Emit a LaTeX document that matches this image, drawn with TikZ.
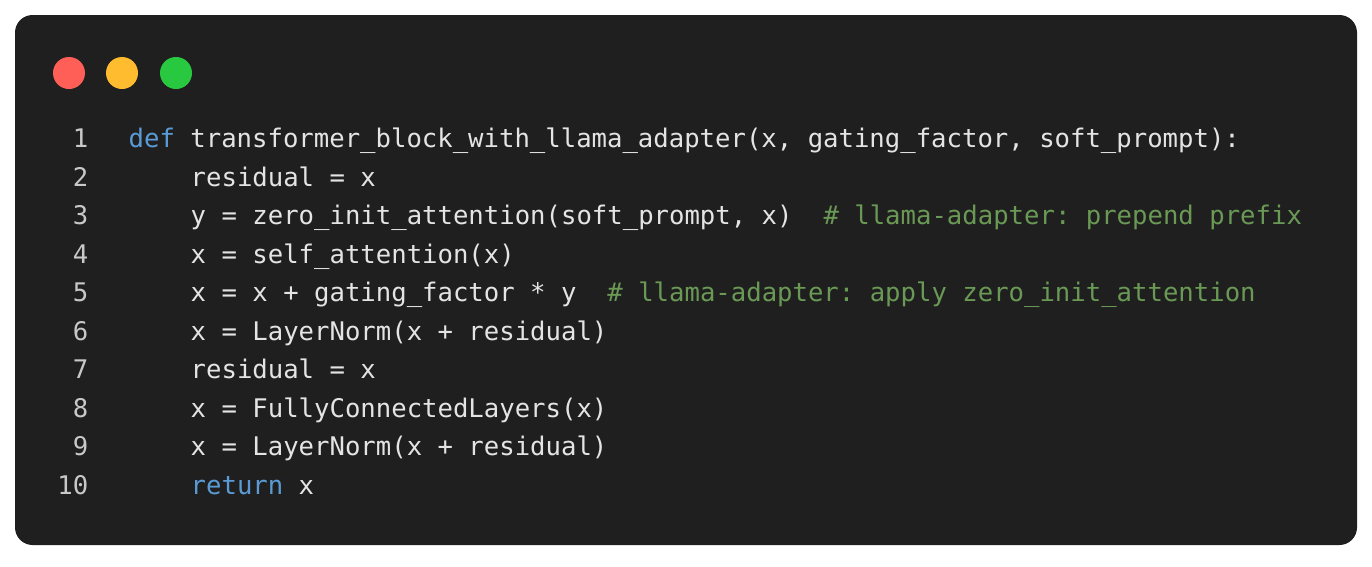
\documentclass[tikz,border=0pt]{standalone}
\usepackage{fontspec}
\setmonofont{DejaVu Sans Mono}
\definecolor{bg}{HTML}{1F1F1F}
\definecolor{fg}{HTML}{E4E4E4}
\definecolor{kw}{HTML}{5A9BD5}
\definecolor{cm}{HTML}{6A9955}
\definecolor{ln}{HTML}{C8C8C8}
\definecolor{dotr}{HTML}{FF5F57}
\definecolor{doty}{HTML}{FEBC2E}
\definecolor{dotg}{HTML}{28C840}
\begin{document}
\begin{tikzpicture}[x=0.01cm,y=-0.01cm,
  code/.style={anchor=mid west,inner sep=0pt,text=fg,font=\ttfamily\fontsize{7.29}{9}\selectfont},
  num/.style={anchor=mid east,inner sep=0pt,text=ln,font=\ttfamily\fontsize{7.29}{9}\selectfont}]
\useasboundingbox (0,0) rectangle (1372,566);
\fill[white] (0,0) rectangle (1372,566);
\fill[bg,rounded corners=5pt] (15,15) rectangle (1357,545);
\fill[dotr] (69,73) circle (16);
\fill[doty] (122,73) circle (16);
\fill[dotg] (176,73) circle (16);
\foreach \i in {1,...,10}{\node[num] (n\i) at (89,{140+(\i-1)*38.5}) {\i};}
\node[code] (l1) at (128,140) {\textcolor{kw}{def} transformer\_block\_with\_llama\_adapter(x, gating\_factor, soft\_prompt):};
\node[code] (l2) at (190,178.5) {residual = x};
\node[code] (l3) at (190,217) {y = zero\_init\_attention(soft\_prompt, x)\ \ \textcolor{cm}{\# llama-adapter: prepend prefix}};
\node[code] (l4) at (190,255.5) {x = self\_attention(x)};
\node[code] (l5) at (190,294) {x = x + gating\_factor * y\ \ \textcolor{cm}{\# llama-adapter: apply zero\_init\_attention}};
\node[code] (l6) at (190,332.5) {x = LayerNorm(x + residual)};
\node[code] (l7) at (190,371) {residual = x};
\node[code] (l8) at (190,409.5) {x = FullyConnectedLayers(x)};
\node[code] (l9) at (190,448) {x = LayerNorm(x + residual)};
\node[code] (l10) at (190,486.5) {\textcolor{kw}{return} x};
\end{tikzpicture}
\end{document}
